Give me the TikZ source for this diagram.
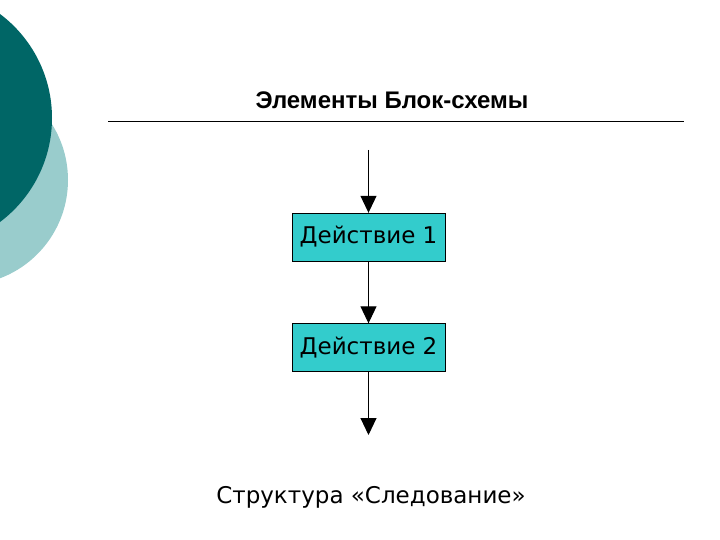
\documentclass[tikz,border=0pt]{standalone}
\usepackage{fontspec}
\setmainfont{DejaVu Sans}
\newfontfamily\titlefont{Liberation Sans}
\usetikzlibrary{arrows.meta,positioning}
\definecolor{darkteal}{RGB}{0,102,102}
\definecolor{paleteal}{RGB}{153,204,204}
\definecolor{boxfill}{RGB}{51,204,204}
\tikzset{
  action/.style={draw,fill=boxfill,minimum width=153pt,minimum height=48pt,inner sep=0pt,font=\fontsize{23}{27}\selectfont},
  flow/.style={-{Triangle[width=16pt,length=17pt]},line width=1pt}
}
\begin{document}
\begin{tikzpicture}[x=1pt,y=-1pt]
        \useasboundingbox (0,0) rectangle (720,540);
        % decoration on the left
        \fill[paleteal] (-37,180) circle (105);
        \fill[darkteal] (-78,118) circle (130);

        \node (title) at (392,100) {\titlefont\bfseries\fontsize{24}{28}\selectfont Элементы Блок-схемы};
        \draw[line width=0.8pt] (108,121) -- (684,121);

        \coordinate (start) at (368.5,150);
        \node[action] (act1) at (368.5,237) {Действие 1};
        \node[action] (act2) at (368.5,347.5) {Действие 2};
        \coordinate (finish) at (368.5,435);
        \draw[flow] (start) -- (act1);
        \draw[flow] (act1) -- (act2);
        \draw[flow] (act2) -- (finish);

        \node (caption) at (371,497) {\fontsize{23}{27}\selectfont Структура «Следование»};
\end{tikzpicture}
\end{document}
